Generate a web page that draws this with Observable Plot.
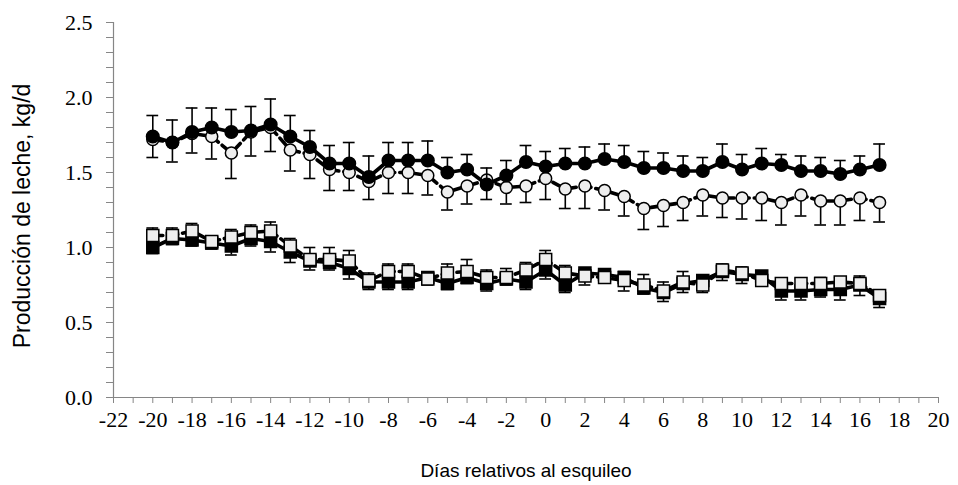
<!DOCTYPE html>
<html>
<head>
<meta charset="utf-8">
<script src="https://cdn.jsdelivr.net/npm/d3@7"></script>
<script src="https://cdn.jsdelivr.net/npm/@observablehq/plot@0.6"></script>
<style>
  html, body { margin: 0; padding: 0; background: #fff; }
  #chart svg { display: block; }
</style>
</head>
<body>
<div id="chart"></div>
<script>
// Days relative to shearing
const days = [-20,-19,-18,-17,-16,-15,-14,-13,-12,-11,-10,-9,-8,-7,-6,-5,-4,-3,-2,-1,0,1,2,3,4,5,6,7,8,9,10,11,12,13,14,15,16,17];

// Filled circles (solid line) – mean and upper SE
const fcMean = [1.74,1.70,1.77,1.80,1.77,1.78,1.82,1.74,1.67,1.56,1.56,1.47,1.58,1.58,1.58,1.50,1.52,1.42,1.48,1.57,1.54,1.56,1.56,1.59,1.57,1.53,1.53,1.51,1.51,1.57,1.52,1.56,1.55,1.51,1.51,1.49,1.52,1.55];
const fcSe   = [0.14,0.15,0.16,0.13,0.15,0.16,0.17,0.14,0.11,0.12,0.14,0.14,0.12,0.12,0.13,0.10,0.10,0.11,0.10,0.11,0.10,0.10,0.11,0.10,0.11,0.11,0.10,0.10,0.09,0.12,0.10,0.10,0.07,0.10,0.09,0.09,0.09,0.14];

// Open circles (dashed line) – mean and lower SE
const ocMean = [1.72,1.70,1.76,1.74,1.63,1.77,1.80,1.65,1.62,1.52,1.50,1.44,1.50,1.50,1.48,1.37,1.41,1.45,1.40,1.41,1.46,1.39,1.41,1.38,1.34,1.26,1.28,1.30,1.35,1.33,1.33,1.33,1.30,1.35,1.31,1.31,1.33,1.30];
const ocSe   = [0.12,0.13,0.13,0.15,0.17,0.16,0.16,0.14,0.16,0.14,0.12,0.12,0.14,0.14,0.13,0.12,0.12,0.13,0.11,0.11,0.14,0.13,0.15,0.13,0.13,0.14,0.14,0.12,0.14,0.13,0.14,0.15,0.15,0.14,0.16,0.16,0.15,0.13];

// Filled squares (solid line) – mean and lower SE
const fsMean = [1.00,1.06,1.05,1.03,1.01,1.06,1.04,0.97,0.91,0.90,0.86,0.77,0.77,0.77,0.80,0.76,0.80,0.76,0.79,0.77,0.85,0.75,0.83,0.82,0.80,0.73,0.70,0.76,0.78,0.84,0.82,0.81,0.71,0.71,0.72,0.72,0.75,0.66];
const fsSe   = [0.04,0.04,0.04,0.04,0.06,0.05,0.07,0.07,0.06,0.05,0.07,0.05,0.05,0.05,0.05,0.04,0.04,0.05,0.04,0.05,0.06,0.05,0.08,0.05,0.09,0.04,0.06,0.06,0.08,0.06,0.06,0.05,0.06,0.06,0.05,0.07,0.07,0.06];

// Open squares (dashed line) – mean and upper SE
const osMean = [1.08,1.08,1.11,1.04,1.07,1.10,1.11,1.01,0.92,0.92,0.91,0.78,0.84,0.84,0.79,0.83,0.84,0.80,0.80,0.85,0.92,0.83,0.81,0.80,0.78,0.75,0.71,0.77,0.75,0.85,0.83,0.78,0.76,0.76,0.76,0.77,0.76,0.68];
const osSe   = [0.05,0.05,0.05,0.03,0.05,0.05,0.06,0.05,0.08,0.08,0.07,0.05,0.05,0.05,0.03,0.06,0.08,0.05,0.06,0.05,0.06,0.05,0.03,0.03,0.06,0.07,0.06,0.07,0.03,0.04,0.04,0.03,0.03,0.03,0.04,0.03,0.05,0.03];

// Axis ticks / labels
const xTicks = [-22,-21,-20,-19,-18,-17,-16,-15,-14,-13,-12,-11,-10,-9,-8,-7,-6,-5,-4,-3,-2,-1,0,1,2,3,4,5,6,7,8,9,10,11,12,13,14,15,16,17,18,19,20];
const xLabels = [-22,-20,-18,-16,-14,-12,-10,-8,-6,-4,-2,0,2,4,6,8,10,12,14,16,18,20];
const yTicks = [0,0.1,0.2,0.3,0.4,0.5,0.6,0.7,0.8,0.9,1.0,1.1,1.2,1.3,1.4,1.5,1.6,1.7,1.8,1.9,2.0,2.1,2.2,2.3,2.4,2.5];
const yLabels = [0, 0.5, 1.0, 1.5, 2.0, 2.5];
const xTitle = "Días relativos al esquileo";
const yTitle = "Producción de leche, kg/d";

const rows = (mean, se, dir) => days.map((d, i) => ({day: d, v: mean[i], e: se[i] * dir}));
const FC = rows(fcMean, fcSe, 1);
const OC = rows(ocMean, ocSe, -1);
const FS = rows(fsMean, fsSe, -1);
const OS = rows(osMean, osSe, 1);

const CAP = 0.3;
function series(data, {fill, symbol, r, dash}) {
  return [
    Plot.ruleX(data, {x: "day", y1: "v", y2: d => d.v + d.e, stroke: "black", strokeWidth: 1.6}),
    Plot.ruleY(data, {y: d => d.v + d.e, x1: d => d.day - CAP, x2: d => d.day + CAP, stroke: "black", strokeWidth: 1.6}),
    Plot.line(data, {x: "day", y: "v", stroke: "black", strokeWidth: 3.6, strokeDasharray: dash}),
    Plot.dot(data, {x: "day", y: "v", symbol, r, fill, stroke: "black", strokeWidth: 1.5})
  ];
}

const serif = "Liberation Serif, Times New Roman, DejaVu Serif, serif";
const sans = "Liberation Sans, Arial, sans-serif";

const chart = Plot.plot({
  width: 958,
  height: 485,
  marginLeft: 113,
  marginRight: 20,
  marginTop: 22,
  marginBottom: 88,
  style: {background: "#fff", color: "black"},
  x: {domain: [-22, 20]},
  y: {domain: [0, 2.5]},
  marks: [
    Plot.axisX({ticks: xTicks, tickFormat: () => "", tickSize: 6, stroke: "#868686", label: null}),
    Plot.axisY({ticks: yTicks, tickFormat: () => "", tickSize: 7, stroke: "#868686", label: null}),
    Plot.ruleX([-22], {stroke: "#868686", strokeWidth: 1.2}),
    Plot.ruleY([0], {stroke: "#868686", strokeWidth: 1.2}),
    Plot.text(xLabels, {x: d => d, y: 0, dy: 22, text: d => String(d), textAnchor: "middle", lineAnchor: "middle",
      fontFamily: serif, fontSize: 22, fill: "black", className: "serif-lbl"}),
    Plot.text(yLabels, {x: -22, y: d => d, dx: -21, text: d => d.toFixed(1), textAnchor: "end", lineAnchor: "middle",
      fontFamily: serif, fontSize: 22, fill: "black", className: "serif-lbl"}),
    ...series(FS, {fill: "black", symbol: "square", r: 6.8, dash: null}),
    ...series(OS, {fill: "#eeeeee", symbol: "square", r: 6.8, dash: "10,5"}),
    ...series(OC, {fill: "#eeeeee", symbol: "circle", r: 6, dash: "10,5"}),
    ...series(FC, {fill: "black", symbol: "circle", r: 6.3, dash: null}),
    Plot.text([xTitle], {frameAnchor: "bottom", dy: 73, textAnchor: "middle", lineAnchor: "middle",
      fontFamily: sans, fontSize: 19, fill: "black"}),
    Plot.text([yTitle], {frameAnchor: "left", dx: -91, dy: 6, rotate: -90, textAnchor: "middle", lineAnchor: "middle",
      fontFamily: sans, fontSize: 23, fill: "black"})
  ]
});
chart.querySelectorAll(".serif-lbl text, text.serif-lbl").forEach(t => {
  t.style.fontFamily = "'Liberation Serif', 'Times New Roman', 'DejaVu Serif', serif";
});
document.getElementById("chart").appendChild(chart);
</script>
</body>
</html>
